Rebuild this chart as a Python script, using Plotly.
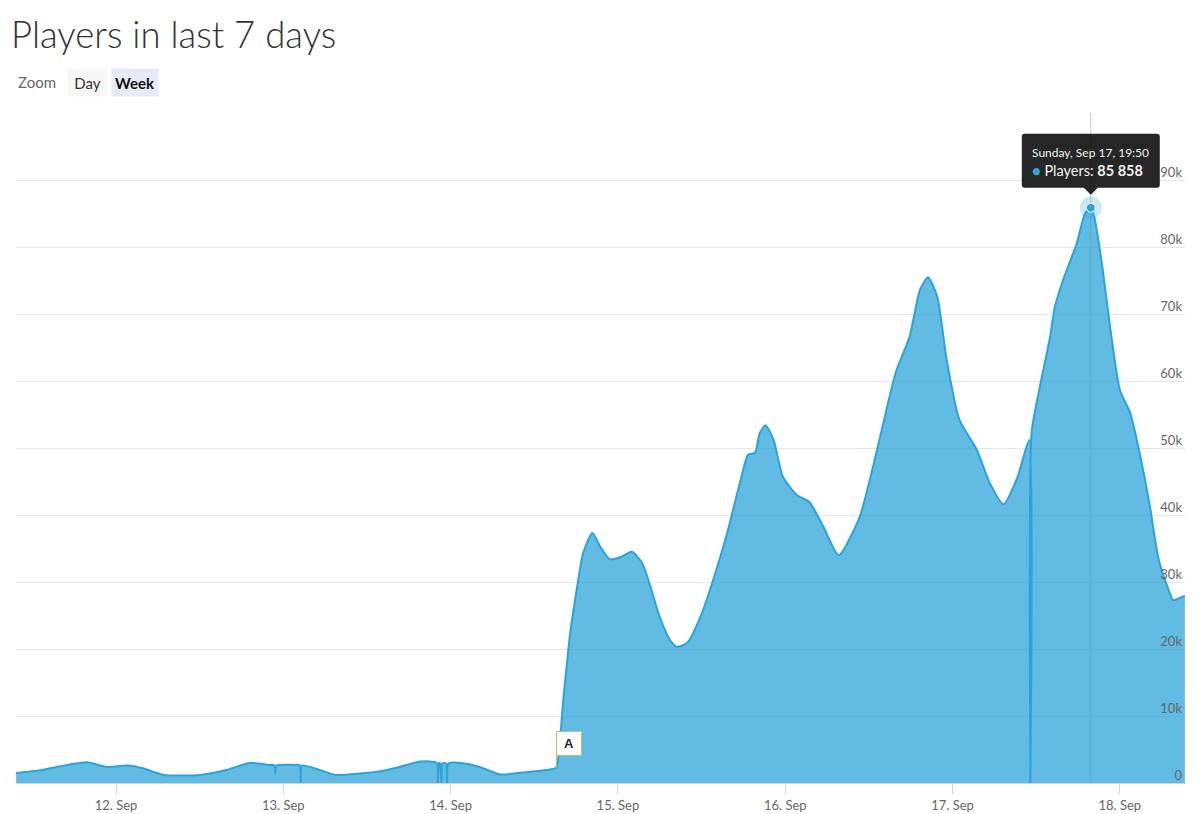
import pandas as pd
import plotly.graph_objects as go

# player counts (time, players)
times = [
    "2023-09-11 09:40", "2023-09-11 13:10", "2023-09-11 16:00", "2023-09-11 19:50", "2023-09-11 22:40",
    "2023-09-12 01:40", "2023-09-12 03:50", "2023-09-12 06:50", "2023-09-12 12:00", "2023-09-12 15:40",
    "2023-09-12 19:10", "2023-09-12 22:00", "2023-09-12 22:40", "2023-09-12 22:50", "2023-09-12 23:00",
    "2023-09-13 01:40", "2023-09-13 02:20", "2023-09-13 02:30", "2023-09-13 02:40", "2023-09-13 05:20",
    "2023-09-13 07:30", "2023-09-13 11:00", "2023-09-13 13:40", "2023-09-13 16:40", "2023-09-13 19:40",
    "2023-09-13 22:00", "2023-09-13 22:10", "2023-09-13 22:20", "2023-09-13 22:30", "2023-09-13 22:40",
    "2023-09-13 22:50", "2023-09-13 23:20", "2023-09-13 23:30", "2023-09-13 23:40",
    "2023-09-14 01:30", "2023-09-14 04:10", "2023-09-14 07:00", "2023-09-14 10:40", "2023-09-14 14:40",
    "2023-09-14 15:10", "2023-09-14 16:10", "2023-09-14 17:10", "2023-09-14 18:10", "2023-09-14 19:00",
    "2023-09-14 20:20", "2023-09-14 21:30", "2023-09-14 22:50",
    "2023-09-15 00:20", "2023-09-15 02:00", "2023-09-15 03:30", "2023-09-15 04:40", "2023-09-15 06:00",
    "2023-09-15 07:30", "2023-09-15 08:30", "2023-09-15 10:00", "2023-09-15 11:50", "2023-09-15 13:40",
    "2023-09-15 15:40", "2023-09-15 17:30", "2023-09-15 18:40", "2023-09-15 19:40", "2023-09-15 20:20",
    "2023-09-15 21:10", "2023-09-15 22:20", "2023-09-15 23:40",
    "2023-09-16 01:40", "2023-09-16 03:30", "2023-09-16 05:30", "2023-09-16 07:40", "2023-09-16 10:40",
    "2023-09-16 13:10", "2023-09-16 15:50", "2023-09-16 17:50", "2023-09-16 19:20", "2023-09-16 20:30",
    "2023-09-16 21:50", "2023-09-16 23:10",
    "2023-09-17 01:00", "2023-09-17 03:30", "2023-09-17 05:20", "2023-09-17 07:20", "2023-09-17 09:20",
    "2023-09-17 11:00", "2023-09-17 11:10", "2023-09-17 11:20", "2023-09-17 12:30", "2023-09-17 14:00",
    "2023-09-17 14:40", "2023-09-17 15:50", "2023-09-17 17:50", "2023-09-17 19:00", "2023-09-17 19:50",
    "2023-09-17 20:20", "2023-09-17 21:30", "2023-09-17 22:40",
    "2023-09-18 00:00", "2023-09-18 01:30", "2023-09-18 02:50", "2023-09-18 04:20", "2023-09-18 05:30",
    "2023-09-18 06:50", "2023-09-18 07:40", "2023-09-18 09:00", "2023-09-18 09:20",
]
players = [
    1500, 1900, 2500, 3100, 2400,
    2600, 2200, 1200, 1200, 1900,
    3000, 2700, 2700, 1500, 2600,
    2700, 2700, 0, 2600, 1900,
    1200, 1400, 1700, 2400, 3200,
    3000, 0, 3000, 2950, 0,
    2950, 2900, 0, 2900,
    3000, 2400, 1300, 1600, 2100,
    2300, 12500, 22500, 29400, 34300,
    37300, 35200, 33400,
    33700, 34500, 32800, 29300, 24800,
    21300, 20300, 21000, 24800, 30300,
    37300, 44800, 49000, 49300, 52200,
    53400, 51200, 45700,
    43000, 41900, 38200, 34000, 39700,
    49700, 61200, 66600, 73600, 75500,
    72500, 63100,
    54200, 49700, 44800, 41600, 45700,
    51200, 0, 52200, 59000, 66600,
    71000, 75000, 80600, 85000, 85858,
    84500, 77000, 67600,
    58700, 55200, 49300, 41200, 33700,
    29300, 27300, 27800, 27900,
]

flag_times = ["2023-09-14 15:10"]
flag_titles = ["A"]

tick_days = ["2023-09-12", "2023-09-13", "2023-09-14", "2023-09-15", "2023-09-16", "2023-09-17", "2023-09-18"]
tick_labels = ["12. Sep", "13. Sep", "14. Sep", "15. Sep", "16. Sep", "17. Sep", "18. Sep"]
y_ticks = [0, 10000, 20000, 30000, 40000, 50000, 60000, 70000, 80000, 90000, 100000]
y_tick_labels = ["0", "10k", "20k", "30k", "40k", "50k", "60k", "70k", "80k", "90k", ""]

df = pd.DataFrame({"time": pd.to_datetime(times), "players": players})
peak = df.loc[df["players"].idxmax()]

LINE = "#2da4d9"
FONT = "Lato"

fig = go.Figure()

fig.add_trace(go.Scatter(
    x=df["time"], y=df["players"], mode="lines",
    line=dict(color=LINE, width=2, shape="spline", smoothing=0.6),
    fill="tozeroy", fillcolor="rgba(45,164,217,0.75)",
    hoverinfo="skip", showlegend=False,
))

# hover halo + point at the peak
fig.add_trace(go.Scatter(
    x=[peak["time"]], y=[peak["players"]], mode="markers",
    marker=dict(size=22, color="rgba(45,164,217,0.25)"),
    hoverinfo="skip", showlegend=False,
))
fig.add_trace(go.Scatter(
    x=[peak["time"]], y=[peak["players"]], mode="markers",
    marker=dict(size=9, color=LINE, line=dict(color="white", width=1)),
    hoverinfo="skip", showlegend=False,
))

# crosshair
fig.add_shape(type="line", xref="x", yref="paper", x0=peak["time"], x1=peak["time"], y0=0, y1=1,
              line=dict(color="#c8c8c8", width=1), layer="below")

# tooltip box with pointer (pixels relative to the peak point)
fig.add_shape(
    type="path", xref="x", yref="y", xsizemode="pixel", ysizemode="pixel",
    xanchor=peak["time"], yanchor=peak["players"],
    path="M -66,20 L -7,20 L 0,13 L 7,20 L 66,20 Q 69,20 69,23 L 69,71 Q 69,74 66,74 "
         "L -66,74 Q -69,74 -69,71 L -69,23 Q -69,20 -66,20 Z",
    fillcolor="rgba(20,20,20,0.92)", line=dict(width=0), layer="above",
)
when = peak["time"].strftime("%A, %b %d, %H:%M")
count = f"{int(peak['players']):,}".replace(",", " ")
fig.add_annotation(
    x=peak["time"], y=peak["players"], xref="x", yref="y",
    text=(f"<span style='font-size:12px'>{when}</span><br>"
          f"<span style='color:{LINE}'>●</span> Players: <b>{count}</b>"),
    showarrow=False, align="left", xanchor="left", yanchor="middle",
    xshift=-61, yshift=46, font=dict(family=FONT, size=14.5, color="#f2f2f2"),
)

# flags
for ft, title in zip(flag_times, flag_titles):
    fy = df.loc[df["time"] == pd.Timestamp(ft), "players"].iloc[0]
    fig.add_annotation(
        x=pd.Timestamp(ft), y=fy, xref="x", yref="y", text=f"<b>{title}</b>",
        showarrow=True, arrowhead=0, arrowwidth=1, arrowcolor="#9fc95f",
        ax=0, ay=-12, xanchor="left", yanchor="bottom", width=18, height=17,
        bgcolor="white", bordercolor="#a9cf6b", borderwidth=1, borderpad=3,
        font=dict(family="Arial", size=13, color="#222"),
    )

# range selector look-alike
def px_x(p):
    return (p - 16) / 1169

def px_y(p):
    return (783 - p) / 670

fig.add_annotation(x=px_x(16), y=px_y(82), xref="paper", yref="paper", text="Zoom",
                   showarrow=False, xanchor="left", yanchor="middle",
                   font=dict(family=FONT, size=15, color="#666"))
fig.add_annotation(x=px_x(87.5), y=px_y(82.5), xref="paper", yref="paper", text="Day",
                   showarrow=False, xanchor="center", yanchor="middle", width=33, height=21,
                   borderpad=3, bgcolor="#f7f7f7", font=dict(family=FONT, size=15, color="#333"))
fig.add_annotation(x=px_x(134.5), y=px_y(82.5), xref="paper", yref="paper", text="<b>Week</b>",
                   showarrow=False, xanchor="center", yanchor="middle", width=40, height=21,
                   borderpad=3, bgcolor="#e6ebf5", font=dict(family=FONT, size=15, color="#111"))

fig.update_layout(
    width=1200, height=814,
    margin=dict(l=16, r=15, t=113, b=31),
    paper_bgcolor="white", plot_bgcolor="white",
    font=dict(family=FONT, color="#666"),
    title=dict(text="Players in last 7 days", x=11 / 1200, xref="container", xanchor="left",
               y=1 - 35 / 814, yref="container", yanchor="middle",
               font=dict(family=FONT, size=36.5, color="#333", weight=300)),
    xaxis=dict(
        type="date", range=["2023-09-11 09:39", "2023-09-18 09:21"],
        tickvals=tick_days, ticktext=tick_labels,
        ticks="outside", ticklen=10, tickcolor="#ccd6eb",
        showline=True, linecolor="#ccd6eb", showgrid=False, zeroline=False,
        tickfont=dict(family=FONT, size=13, color="#666"), automargin=False,
    ),
    yaxis=dict(
        range=[0, 100000], tickvals=y_ticks, ticktext=y_tick_labels,
        side="right", ticklabelposition="inside", ticklabelshift=-8, ticklabelstandoff=0,
        showgrid=True, gridcolor="#e6e6e6", zeroline=False, showline=False,
        tickfont=dict(family=FONT, size=13, color="#666"), automargin=False,
    ),
)

fig.write_html("out.html", config={"displayModeBar": False},
               post_script="document.body.style.margin='0';")
